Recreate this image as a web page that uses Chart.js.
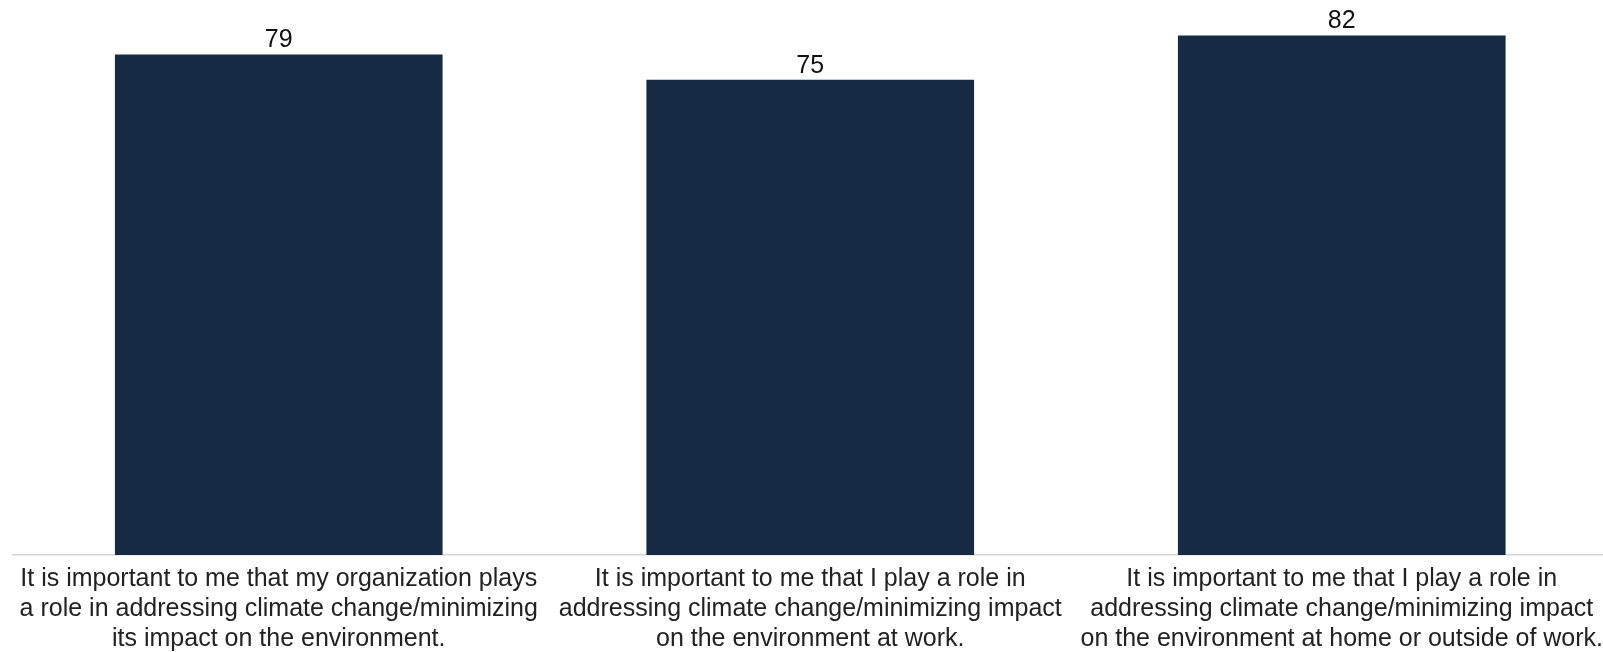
<!DOCTYPE html>
<html>
<head>
<meta charset="utf-8">
<script src="https://cdn.jsdelivr.net/npm/chart.js@4"></script>
<style>
  html, body { margin: 0; padding: 0; background: #fff; overflow: hidden; }
  #wrap { width: 1612px; height: 663px; }
</style>
</head>
<body>
<div id="wrap"><canvas id="myChart"></canvas></div>
<script>
  const categories = [
    ['It is important to me that my organization plays', 'a role in addressing climate change/minimizing', 'its impact on the environment.'],
    ['It is important to me that I play a role in', 'addressing climate change/minimizing impact', 'on the environment at work.'],
    ['It is important to me that I play a role in', 'addressing climate change/minimizing impact', 'on the environment at home or outside of work.']
  ];
  const values = [79, 75, 82];

  // draws the number on top of each bar
  const valueLabels = {
    id: 'valueLabels',
    afterDatasetsDraw(chart) {
      const ctx = chart.ctx;
      ctx.save();
      ctx.font = '25px "Liberation Sans", Arial, sans-serif';
      ctx.fillStyle = '#111';
      ctx.textAlign = 'center';
      ctx.textBaseline = 'alphabetic';
      chart.getDatasetMeta(0).data.forEach((bar, i) => {
        ctx.fillText(values[i], bar.x, bar.y - 7);
      });
      ctx.restore();
    }
  };

  const ctx = document.getElementById('myChart').getContext('2d');

  new Chart(ctx, {
    type: 'bar',
    data: {
      labels: categories,
      datasets: [{
        data: values,
        backgroundColor: '#162a43',
        barPercentage: 0.6165,
        categoryPercentage: 1
      }]
    },
    options: {
      responsive: true,
      maintainAspectRatio: false,
      animation: false,
      layout: { padding: { left: 13, right: 0, top: 0, bottom: 0 } },
      plugins: {
        legend: { display: false },
        tooltip: { enabled: false }
      },
      scales: {
        x: {
          grid: { display: true, drawOnChartArea: false, drawTicks: false },
          border: { display: true, color: '#d6d6d6', width: 1.5 },
          ticks: {
            autoSkip: false,
            maxRotation: 0,
            padding: 9,
            color: '#222',
            font: { family: '"Liberation Sans", Arial, sans-serif', size: 25, lineHeight: 1.2 }
          }
        },
        y: {
          display: false,
          min: 0,
          max: 87.6
        }
      }
    },
    plugins: [valueLabels]
  });
</script>
</body>
</html>
